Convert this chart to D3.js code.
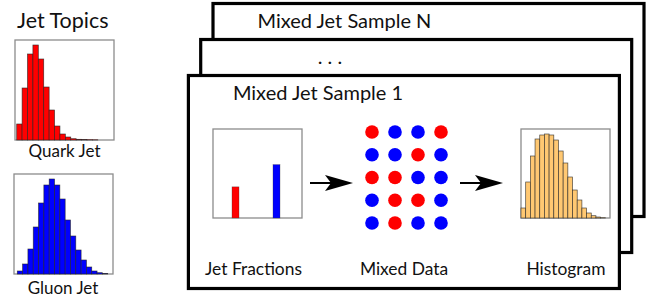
<!DOCTYPE html>
<html>
<head>
<meta charset="utf-8">
<script src="https://cdn.jsdelivr.net/npm/d3@7"></script>
<style>
  body { margin: 0; background: #fff; }
  svg { display: block; font-family: "Lato", "Open Sans", sans-serif; }
</style>
</head>
<body>
<div id="chart"></div>
<script>
"use strict";

// topic histograms (bar heights, arbitrary units)
const quarkBins = [16, 52, 86, 95, 81, 53, 30, 14, 6, 3, 1.3, 0.7, 0.4, 0.3, 0.2, 0, 0, 0];
const gluonBins = [3, 10, 25, 47, 71, 89, 95, 89, 75, 54, 38, 24, 14, 7, 3, 1.3, 0.4, 0];
// mixed sample histogram
const mixedBins = [10, 36, 62, 79, 83, 84, 83, 78, 67, 55, 41, 28, 18, 10, 5, 2.3, 1, 0.3, 0];

// jet fractions
const fractionNames = ["quark", "gluon"];
const fractionValues = [0.35, 0.6];

// mixed data grid, row by row
const mixedGrid = [
  ["quark", "gluon", "gluon", "quark"],
  ["gluon", "gluon", "quark", "gluon"],
  ["quark", "quark", "gluon", "gluon"],
  ["gluon", "quark", "quark", "gluon"],
  ["gluon", "quark", "gluon", "gluon"]
];

const sampleLabels = ["Mixed Jet Sample N", ". . .", "Mixed Jet Sample 1"];
const stepLabels = ["Jet Fractions", "Mixed Data", "Histogram"];
const topicLabels = ["Quark Jet", "Gluon Jet"];

const colors = { quark: "#ff0000", gluon: "#0000ff" };

const width = 651, height = 299;

const svg = d3.select("#chart")
  .append("svg")
  .attr("width", width)
  .attr("height", height);

/* ---- left side: jet topics ---- */
svg.append("text")
  .attr("x", 17)
  .attr("y", 28)
  .attr("font-size", 21.5)
  .attr("fill", "#111")
  .text("Jet Topics");

// draw a histogram in a grey frame
function drawHist(bins, frame, fill, padLeft, yMax) {
  const g = svg.append("g");
  const x = d3.scaleBand()
    .domain(d3.range(bins.length))
    .range([frame.x + padLeft, frame.x + frame.w])
    .padding(0);
  const y = d3.scaleLinear()
    .domain([0, yMax])
    .range([frame.y + frame.h, frame.y]);

  g.append("rect")
    .attr("x", frame.x)
    .attr("y", frame.y)
    .attr("width", frame.w)
    .attr("height", frame.h)
    .attr("fill", "#fff")
    .attr("stroke", "#8c8c8c")
    .attr("stroke-width", 1.3);

  g.selectAll(".bar")
    .data(bins.filter(v => v > 0))
    .enter()
    .append("rect")
    .attr("class", "bar")
    .attr("x", (d, i) => x(i))
    .attr("y", d => y(d))
    .attr("width", x.bandwidth())
    .attr("height", d => y(0) - y(d))
    .attr("fill", fill)
    .attr("stroke", "#222")
    .attr("stroke-opacity", 0.8)
    .attr("stroke-width", 0.7);
  return g;
}

const quarkFrame = { x: 15, y: 40, w: 99, h: 100 };
const gluonFrame = { x: 14, y: 174, w: 99, h: 100 };
drawHist(quarkBins, quarkFrame, colors.quark, 1.7, 100);
drawHist(gluonBins, gluonFrame, colors.gluon, 3.3, 100);

svg.selectAll(".topic-label")
  .data(topicLabels)
  .enter()
  .append("text")
  .attr("class", "topic-label")
  .attr("x", (d, i) => i === 0 ? 64.5 : 63)
  .attr("y", (d, i) => i === 0 ? 157 : 294)
  .attr("text-anchor", "middle")
  .attr("font-size", 17)
  .attr("fill", "#111")
  .text(d => d);

/* ---- stacked sample boxes ---- */
const box = { x: 213, y: 3.5, w: 431, h: 213, dx: -12.3, dy: 36 };

const boxes = svg.selectAll(".sample")
  .data(sampleLabels)
  .enter()
  .append("g")
  .attr("class", "sample")
  .attr("transform", (d, i) => `translate(${box.x + box.dx * i},${box.y + box.dy * i})`);

boxes.append("rect")
  .attr("width", box.w)
  .attr("height", box.h)
  .attr("fill", "#fff")
  .attr("stroke", "#000")
  .attr("stroke-width", 3.2);

boxes.append("text")
  .attr("x", d => d.startsWith(".") ? 117 : 44.5)
  .attr("y", 24)
  .attr("font-size", 20)
  .attr("fill", "#111")
  .text(d => d);

/* ---- front box content ---- */
// jet fractions
const fracFrame = { x: 213, y: 129, w: 89, h: 89 };
const fx = d3.scalePoint()
  .domain(fractionNames)
  .range([fracFrame.x + 22.5, fracFrame.x + 63.5]);
const fy = d3.scaleLinear()
  .domain([0, 1])
  .range([fracFrame.y + fracFrame.h, fracFrame.y]);

svg.append("rect")
  .attr("x", fracFrame.x)
  .attr("y", fracFrame.y)
  .attr("width", fracFrame.w)
  .attr("height", fracFrame.h)
  .attr("fill", "#fff")
  .attr("stroke", "#8c8c8c")
  .attr("stroke-width", 1.3);

svg.selectAll(".frac")
  .data(fractionValues)
  .enter()
  .append("rect")
  .attr("class", "frac")
  .attr("x", (d, i) => fx(fractionNames[i]) - 3.5)
  .attr("y", d => fy(d))
  .attr("width", 7)
  .attr("height", d => fy(0) - fy(d))
  .attr("fill", (d, i) => colors[fractionNames[i]])
  .attr("stroke", "#333")
  .attr("stroke-opacity", 0.5)
  .attr("stroke-width", 0.6);

// mixed data dots
const gx = d3.scalePoint()
  .domain(d3.range(mixedGrid[0].length))
  .range([372, 441]);
const gy = d3.scalePoint()
  .domain(d3.range(mixedGrid.length))
  .range([132, 223]);

svg.selectAll(".row")
  .data(mixedGrid)
  .enter()
  .append("g")
  .attr("class", "row")
  .selectAll("circle")
  .data((row, r) => row.map((c, k) => ({ c, r, k })))
  .enter()
  .append("circle")
  .attr("cx", d => gx(d.k))
  .attr("cy", d => gy(d.r))
  .attr("r", 6.8)
  .attr("fill", d => colors[d.c]);

// histogram of the mixed sample
drawHist(mixedBins, { x: 521, y: 129, w: 89, h: 89 }, "#ffc872", 0, 89);

// arrows
function arrow(x1, x2, yy) {
  svg.append("line")
    .attr("x1", x1)
    .attr("x2", x2 - 20)
    .attr("y1", yy)
    .attr("y2", yy)
    .attr("stroke", "#000")
    .attr("stroke-width", 2);
  svg.append("path")
    .attr("d", `M${x2},${yy} L${x2 - 28},${yy - 8} L${x2 - 22},${yy} L${x2 - 28},${yy + 8} Z`)
    .attr("fill", "#000");
}
arrow(310, 353, 183);
arrow(460, 503, 183);

// step labels
svg.selectAll(".step")
  .data(stepLabels)
  .enter()
  .append("text")
  .attr("class", "step")
  .attr("x", (d, i) => [253.5, 404, 566][i])
  .attr("y", 275)
  .attr("text-anchor", "middle")
  .attr("font-size", 17.4)
  .attr("fill", "#111")
  .text(d => d);
</script>
</body>
</html>
